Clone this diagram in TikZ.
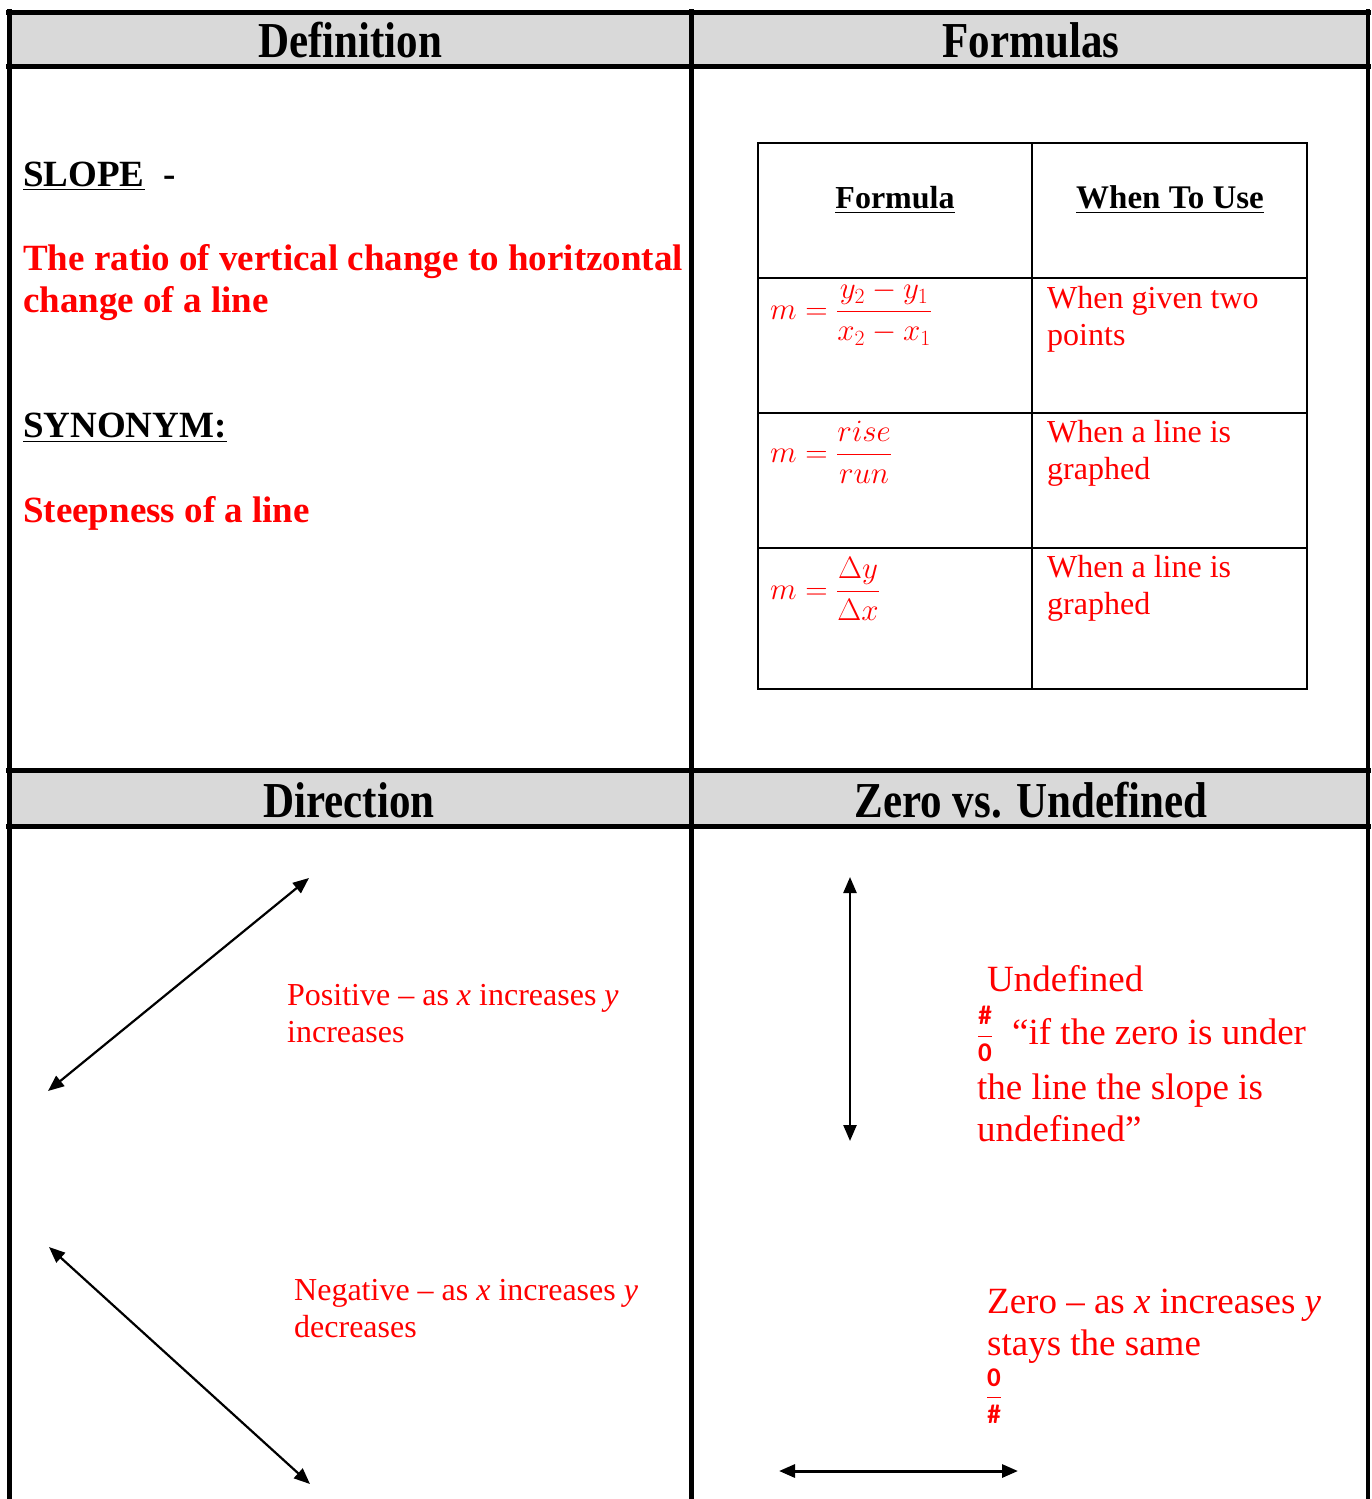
\documentclass[tikz,border=0pt]{standalone}
\usepackage{fix-cm}
\usepackage{amsmath}
\usepackage{fontspec}
\setmainfont{Liberation Serif}
\setsansfont{Carlito}
\usetikzlibrary{arrows.meta}

\definecolor{hdrgrey}{RGB}{217,217,217}
\definecolor{txtred}{RGB}{255,0,0}

% header text is set a little taller than wide, as in the scan
\newcommand{\tallhdr}[1]{\scalebox{1}[1.17]{#1}}
\newcommand{\fracglyph}[1]{\textsf{\textbf{#1}}}

\tikzset{
  frame/.style={line width=5pt},
  cell/.style={line width=2pt},
  hdr/.style={anchor=center,inner sep=0pt,font=\fontsize{43}{48}\selectfont\bfseries},
  redtxt/.style={anchor=base west,inner sep=0pt,text=txtred},
  blktxt/.style={anchor=base west,inner sep=0pt,font=\fontsize{37}{42}\selectfont\bfseries},
  mathtxt/.style={anchor=west,inner sep=0pt,text=txtred,font=\fontsize{31}{36}\selectfont},
  smallfrac/.style={anchor=center,inner sep=0pt,text=txtred,font=\fontsize{27}{30}\selectfont},
  dirarrow/.style={line width=2.2pt,{Triangle[length=16pt,width=13pt]}-{Triangle[length=16pt,width=13pt]}},
}

\begin{document}
\begin{tikzpicture}[x=1pt, y=-1pt, line cap=butt, line join=miter]

  %% ════ grey header bands ════
  \fill[hdrgrey] (9,12) rectangle (1368,66);
  \fill[hdrgrey] (9,770) rectangle (1368,826);

  %% ════ outer grid ════
  \draw[frame] (6,12) -- (1371,12);
  \draw[frame] (6,66) -- (1371,66);
  \draw[frame] (6,770) -- (1371,770);
  \draw[frame] (6,826) -- (1371,826);
  \draw[frame] (9,9) -- (9,1499);
  \draw[frame] (691,9) -- (691,1499);
  \draw[line width=3.5pt] (1368,9) -- (1368,1499);

  %% ════ header texts ════
  \node[hdr] (defhdr) at (350,40) {\tallhdr{Definition}};
  \node[hdr] (formhdr) at (1031,40) {\tallhdr{Formulas}};
  \node[hdr] (dirhdr) at (349,800) {\tallhdr{Direction}};
  \node[hdr] (zerohdr) at (1031,800) {\tallhdr{Zero vs. Undefined}};

  %% ════ definition cell ════
  %% (base west of a two-line node = baseline of its LAST line)
  \node[blktxt] (slope) at (23,186) {\underline{SLOPE}\ \ -};
  \node[redtxt,font=\fontsize{37}{42}\selectfont\bfseries,align=left] (ratio) at (23,312)
    {The ratio of vertical change to horitzontal\\change of a line};
  \node[blktxt] (synonym) at (23,437) {\underline{SYNONYM:}};
  \node[redtxt,font=\fontsize{37}{42}\selectfont\bfseries] (steep) at (23,522) {Steepness of a line};

  %% ════ formula table ════
  \draw[cell] (758,143) rectangle (1307,689);
  \draw[cell] (1032,143) -- (1032,689);
  \foreach \yy in {278,413,548}
    \draw[cell] (758,\yy) -- (1307,\yy);

  \node[anchor=center,inner sep=0pt,font=\fontsize{32}{36}\selectfont\bfseries] (fhead) at (895,200) {\underline{Formula}};
  \node[anchor=center,inner sep=0pt,font=\fontsize{33}{36}\selectfont\bfseries] (uhead) at (1170,200) {\underline{When To Use}};

  % formulas: fraction bar sits on the given y
  \node[mathtxt] (ftwo) at (770,313) {$m=\dfrac{y_2-y_1}{x_2-x_1}$};
  \node[mathtxt] (frise) at (770,452) {$m=\dfrac{rise}{run}$};
  \node[mathtxt] (fdelta) at (770,589) {$m=\dfrac{\Delta y}{\Delta x}$};

  \node[redtxt,font=\fontsize{32}{37}\selectfont,align=left] (utwo) at (1047,345) {When given two\\points};
  \node[redtxt,font=\fontsize{32}{37}\selectfont,align=left] (urise) at (1047,479) {When a line is\\graphed};
  \node[redtxt,font=\fontsize{32}{37}\selectfont,align=left] (udelta) at (1047,614) {When a line is\\graphed};

  %% ════ direction cell ════
  \coordinate (posLow) at (48,1091);
  \coordinate (posHigh) at (309,878);
  \draw[dirarrow] (posLow) -- (posHigh);
  \node[redtxt,font=\fontsize{32}{37}\selectfont,align=left] (postxt) at (287,1042)
    {Positive -- as \textit{x} increases \textit{y}\\increases};

  \coordinate (negHigh) at (49,1247);
  \coordinate (negLow) at (310,1484);
  \draw[dirarrow] (negHigh) -- (negLow);
  \node[redtxt,font=\fontsize{32}{37}\selectfont,align=left] (negtxt) at (294,1337)
    {Negative -- as \textit{x} increases \textit{y}\\decreases};

  %% ════ zero vs undefined cell ════
  \coordinate (vertTop) at (850,877);
  \coordinate (vertBot) at (850,1141);
  \draw[dirarrow,line width=2.4pt] (vertTop) -- (vertBot);

  \node[redtxt,font=\fontsize{37}{42}\selectfont] (undef) at (987,991) {Undefined};
  \node[smallfrac] (hashzero) at (985,1034) {$\dfrac{\text{\fracglyph{\#}}}{\text{\fracglyph{0}}}$};
  \node[redtxt,font=\fontsize{37}{42}\selectfont] (quote) at (1012,1044) {``if the zero is under};
  \node[redtxt,font=\fontsize{37}{42}\selectfont,align=left] (quoterest) at (977,1141)
    {the line the slope is\\undefined''};

  \node[redtxt,font=\fontsize{37}{42}\selectfont,align=left] (zerotxt) at (987,1355)
    {Zero -- as \textit{x} increases \textit{y}\\stays the same};
  \node[smallfrac] (zerohash) at (994,1396) {$\dfrac{\text{\fracglyph{0}}}{\text{\fracglyph{\#}}}$};

  \coordinate (horLeft) at (779,1471);
  \coordinate (horRight) at (1018,1471);
  \draw[dirarrow,line width=3pt] (horLeft) -- (horRight);

  % canvas fixed to the reference size
  \pgfresetboundingbox
  \path[use as bounding box] (0,0) rectangle (1371,1499);
\end{tikzpicture}
\end{document}
